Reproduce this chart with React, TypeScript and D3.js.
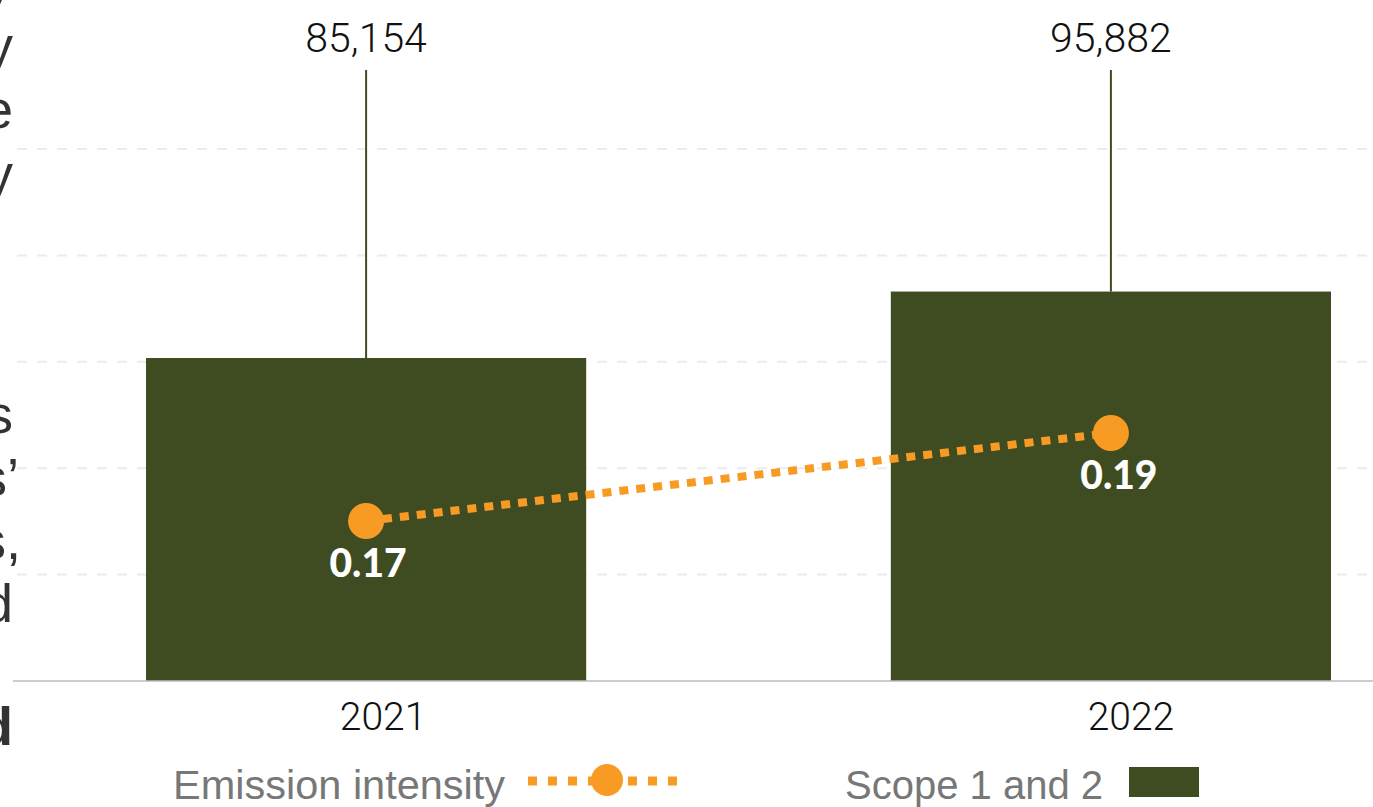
import React from "react";
import * as d3 from "d3";

// Scope 1 and 2 emissions (bars) and emission intensity (dotted line)
const years = ["2021", "2022"];
const scopeEmissions = [85154, 95882];
const emissionIntensity = [0.17, 0.19];
const emissionLabels = ["85,154", "95,882"];
const intensityLabels = ["0.17", "0.19"];

// Tail ends of the neighbouring paragraph, clipped at the page edge
const sideFragments = [
  { text: "y", y: 0, bold: false, dx: 0 },
  { text: "y", y: 64, bold: false, dx: 0 },
  { text: "e", y: 128, bold: false, dx: 0 },
  { text: "y", y: 192, bold: false, dx: 0 },
  { text: "s", y: 433, bold: false, dx: 0 },
  { text: "s\u2019", y: 496, bold: false, dx: 6 },
  { text: "s,", y: 559, bold: false, dx: 8 },
  { text: "d", y: 622, bold: false, dx: 0 },
  { text: "d", y: 745, bold: true, dx: 0 },
];

const W = 1373;
const H = 807;
const BASE = 681;
const BAR_COLOR = "#3f4c21";
const ORANGE = "#f89b24";
const NUM_FONT = "Roboto, 'Liberation Sans', sans-serif";
const TEXT_FONT = "'Liberation Sans', Arial, sans-serif";
const HEAVY_FONT = "Lato, 'Roboto', sans-serif";

export default function App() {
  const x = d3
    .scaleBand<string>()
    .domain(years)
    .range([146, 1331])
    .paddingInner(0.409)
    .paddingOuter(0);

  const barDomain: [number, number] = [33000, 118900];
  const yBar = d3.scaleLinear().domain(barDomain).range([BASE, 149]);
  const yLine = d3.scaleLinear().domain([0.13, 0.25]).range([697, 169]);

  const gridCount = 5;
  const gridValues = d3
    .range(1, gridCount + 1)
    .map((i) => barDomain[0] + (i * (barDomain[1] - barDomain[0])) / gridCount);

  const cx = (yr: string) => (x(yr) ?? 0) + x.bandwidth() / 2;

  const linePath = d3
    .line<number>()
    .x((_, i) => cx(years[i]))
    .y((v) => yLine(v))(emissionIntensity);

  return (
    <svg
      width={W}
      height={H}
      style={{ position: "absolute", left: 0, top: 0, background: "#fff" }}
    >
      {/* paragraph fragments on the left edge */}
      {sideFragments.map((f, i) => (
        <text
          key={i}
          x={13 + f.dx}
          y={f.y}
          textAnchor="end"
          fontFamily={TEXT_FONT}
          fontSize={54}
          fontWeight={f.bold ? 700 : 400}
          fill="#333"
        >
          {f.text}
        </text>
      ))}

      {/* gridlines */}
      {gridValues.map((v, i) => (
        <line
          key={i}
          x1={17}
          x2={1368}
          y1={yBar(v)}
          y2={yBar(v)}
          stroke="#ececec"
          strokeWidth={2}
          strokeDasharray="10 10"
        />
      ))}

      {/* bars with value leaders */}
      {years.map((yr, i) => (
        <g key={yr}>
          <rect
            x={x(yr)}
            y={yBar(scopeEmissions[i])}
            width={x.bandwidth()}
            height={BASE - yBar(scopeEmissions[i])}
            fill={BAR_COLOR}
          />
          <line
            x1={cx(yr)}
            x2={cx(yr)}
            y1={70}
            y2={yBar(scopeEmissions[i])}
            stroke={BAR_COLOR}
            strokeWidth={2}
          />
          <text
            x={cx(yr)}
            y={52}
            textAnchor="middle"
            fontFamily={NUM_FONT}
            fontWeight={300}
            fontSize={41}
            fill="#111"
          >
            {emissionLabels[i]}
          </text>
          <text
            x={cx(yr) + 17 + i * 3}
            y={730}
            textAnchor="middle"
            fontFamily={NUM_FONT}
            fontWeight={300}
            fontSize={39}
            fill="#111"
          >
            {yr}
          </text>
        </g>
      ))}

      {/* baseline */}
      <line x1={13} x2={W} y1={BASE} y2={BASE} stroke="#bbb" strokeWidth={1.5} />

      {/* intensity line */}
      <path
        d={linePath ?? ""}
        fill="none"
        stroke={ORANGE}
        strokeWidth={8}
        strokeDasharray="9 8"
      />
      {years.map((yr, i) => (
        <g key={yr}>
          <circle cx={cx(yr)} cy={yLine(emissionIntensity[i])} r={18} fill={ORANGE} />
          <text
            x={cx(yr) + 2 + i * 6}
            y={yLine(emissionIntensity[i]) + 56}
            textAnchor="middle"
            fontFamily={HEAVY_FONT}
            fontWeight={900}
            fontSize={39}
            fill="#fff"
          >
            {intensityLabels[i]}
          </text>
        </g>
      ))}

      {/* legend */}
      <text x={173} y={799} fontFamily={TEXT_FONT} fontSize={41.5} fill="#777">
        Emission intensity
      </text>
      <line
        x1={528}
        x2={682}
        y1={781}
        y2={781}
        stroke={ORANGE}
        strokeWidth={9}
        strokeDasharray="9 11"
      />
      <circle cx={607} cy={780} r={16} fill={ORANGE} />
      <text x={845} y={799} fontFamily={TEXT_FONT} fontSize={40} fill="#777">
        Scope 1 and 2
      </text>
      <rect x={1129} y={767} width={70} height={30} fill={BAR_COLOR} />
    </svg>
  );
}
